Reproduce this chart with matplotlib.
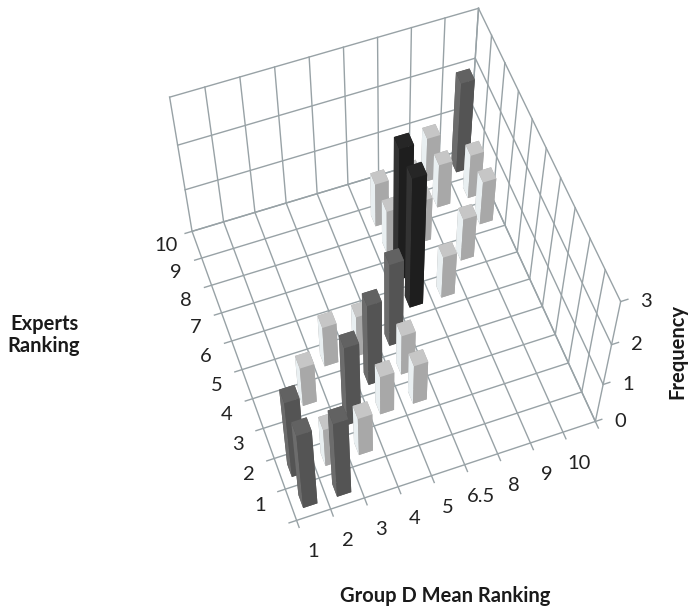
import matplotlib
matplotlib.use('Agg')
import matplotlib.pyplot as plt
from mpl_toolkits.mplot3d import proj3d

plt.rcParams['font.family'] = ['Lato', 'DejaVu Sans']

x_labels = ['1', '2', '3', '4', '5', '6.5', '8', '9', '10']
y_labels = ['1', '2', '3', '4', '5', '6', '7', '8', '9', '10']
z_ticks = [0, 1, 2, 3]

# index into x_labels / y_labels, and the frequency
bar_x = [0, 0, 1, 1, 2, 2, 1, 2, 3, 3, 3, 4, 4, 4, 5, 5, 6, 7, 8, 7, 8, 8, 7, 5, 5, 6, 6]
bar_y = [0, 1, 0, 1, 1, 2, 3, 4, 2, 3, 4, 4, 3, 2, 5, 6, 5, 6, 7, 8, 8, 9, 9, 8, 7, 7, 8]
bar_h = [2, 2, 2, 1, 1, 2, 1, 1, 1, 2, 1, 2, 1, 1, 3, 3, 1, 1, 1, 1, 1, 2, 1, 1, 1, 1, 1]

W, H = 688, 613
fig = plt.figure(figsize=(W / 100, H / 100), dpi=100)
# camera and box were fitted once to the corners of the reference
ax = fig.add_axes([116.9 / W, 78.6 / H, 527.7 / W, 527.7 / H], projection='3d', computed_zorder=False)
ax.set_xlim(0, 9)
ax.set_ylim(0, 10)
ax.set_zlim(0, 3)
ax.set_axis_off()
ax.view_init(elev=59.307, azim=-109.796)
ax.set_proj_type('persp', focal_length=0.673)
ax.set_box_aspect((1, 1.114, 0.772))

grid = dict(color='#98a2a6', lw=1.0, zorder=1)
for i in range(10):
    ax.plot([i, i], [-0.22, 10], [0, 0], **grid)
    ax.plot([i, i], [10, 10], [0, 3], **grid)
for j in range(11):
    ax.plot([-0.22, 9], [j, j], [0, 0], **grid)
    ax.plot([9, 9], [j, j], [0, 3], **grid)
for k in z_ticks:
    ax.plot([0, 9], [10, 10], [k, k], **grid)
    ax.plot([9, 9.2], [0, 0], [k, k], **grid)
    ax.plot([9, 9], [0, 10], [k, k], **grid)

shades = {1: ('#a8a8a8', '#c6c6c6', '#e9eff1'),
          2: ('#545454', '#626262', '#6c6c6c'),
          3: ('#1e1e1e', '#262626', '#333333')}
w = 0.42
order = sorted(range(len(bar_x)), key=lambda n: bar_x[n] * 0.35 + bar_y[n], reverse=True)
for rank, n in enumerate(order):
    front, top, side = shades[bar_h[n]]
    # faces: bottom, top, -y, +y, -x, +x
    cols = [front, top, front, front, side, front]
    ax.bar3d(bar_x[n] + 0.5 - w / 2, bar_y[n] + 0.5 - w / 2, 0, w, w, bar_h[n],
             color=cols, shade=False, zorder=2 + rank, edgecolor='none')

M = ax.get_proj()


def label(txt, x, y, z, dx, dy):
    X, Y, _ = proj3d.proj_transform(x, y, z, M)
    ax.annotate(txt, (X, Y), xytext=(dx, dy), textcoords='offset pixels',
                ha='center', va='center', fontsize=14.5, color='#222222', zorder=100)


for i, t in enumerate(x_labels):
    label(t, i + 0.5, 0, 0, 0, -37)
for j, t in enumerate(y_labels):
    label(t, 0, j + 0.5, 0, -31, -1)
for k in z_ticks:
    label(str(k), 9, 0, k, 25, 0)

bold = dict(fontsize=14.5, fontweight='bold', color='#1a1a1a', ha='center', va='center')
fig.text(44 / W, 1 - 335 / H, 'Experts\nRanking', linespacing=1.15, **bold)
fig.text(445 / W, 1 - 596 / H, 'Group D Mean Ranking', **bold)
fig.text(677 / W, 1 - 352 / H, 'Frequency', rotation=90, **bold)

fig.savefig('out.png', dpi=100)
